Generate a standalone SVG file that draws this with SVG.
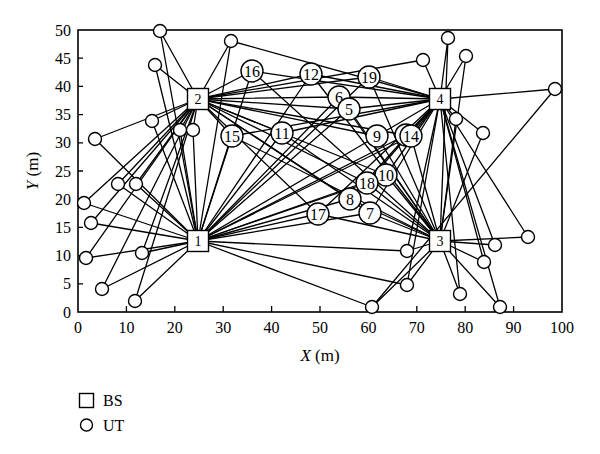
<svg xmlns="http://www.w3.org/2000/svg" width="600" height="454" viewBox="0 0 600 454" font-family="'Liberation Serif', 'Times New Roman', serif">
<style>
.ln{stroke:#000;stroke-width:1.3;fill:none}
.fr{stroke:#000;stroke-width:1.6;fill:none}
.tk{stroke:#000;stroke-width:1.3}
.bs{fill:#fff;stroke:#000;stroke-width:1.4}
.ut{fill:#fff;stroke:#000;stroke-width:1.4}
text{font-family:"Liberation Serif","Times New Roman",serif;fill:#000}
.ax{font-size:16px}
.nl{font-size:16px;text-anchor:middle}
.bl{font-size:14px;text-anchor:middle}
</style>
<rect width="600" height="454" fill="#fff"/>
<g id="connectors" class="ln">
<path d="M160,31L198,99M160,31L198,241"/>
<path d="M155,65L198,99M155,65L198,241"/>
<path d="M231,41L198,99M231,41L440,99M231,41L198,241"/>
<path d="M152,121L198,99M152,121L198,241"/>
<path d="M95,139L198,99M95,139L198,241"/>
<path d="M180,130L198,99M180,130L198,241"/>
<path d="M193,130L198,99M193,130L198,241"/>
<path d="M84,203L198,241M84,203L198,99"/>
<path d="M91,223L198,241M91,223L198,99"/>
<path d="M86,258L198,241M86,258L198,99"/>
<path d="M102,289L198,241M102,289L198,99"/>
<path d="M135,301L198,241M135,301L198,99"/>
<path d="M142,253L198,241M142,253L198,99"/>
<path d="M118,184L198,241M118,184L198,99"/>
<path d="M136,184L198,241M136,184L198,99"/>
<path d="M448,38L440,99M448,38L440,241"/>
<path d="M423,60L440,99M423,60L198,99"/>
<path d="M466,56L440,99M466,56L440,241"/>
<path d="M555,89L440,99M555,89L372,307"/>
<path d="M456,119L440,99M456,119L440,241"/>
<path d="M483,133L440,99M483,133L440,241"/>
<path d="M528,237L440,241M528,237L440,99"/>
<path d="M495,245L440,241M495,245L440,99"/>
<path d="M484,262L440,241M484,262L440,99"/>
<path d="M407,251L440,241M407,251L198,241M407,251L440,99"/>
<path d="M407,285L440,241M407,285L198,241M407,285L440,99"/>
<path d="M460,294L440,241M460,294L440,99"/>
<path d="M372,307L198,241M372,307L440,241"/>
<path d="M500,307L440,241M500,307L440,99"/>
<path d="M406,135L198,241M406,135L440,99"/>
<path d="M252,71L198,241M252,71L198,99M252,71L440,241M252,71L440,99"/>
<path d="M311,74L198,241M311,74L198,99M311,74L440,241M311,74L440,99"/>
<path d="M369,77L198,241M369,77L198,99M369,77L440,241M369,77L440,99"/>
<path d="M339,97L198,241M339,97L198,99M339,97L440,241M339,97L440,99"/>
<path d="M349,109L198,241M349,109L198,99M349,109L440,241M349,109L440,99"/>
<path d="M232,136L198,241M232,136L198,99M232,136L440,241M232,136L440,99"/>
<path d="M282,133L198,241M282,133L198,99M282,133L440,241M282,133L440,99"/>
<path d="M377,136L198,241M377,136L198,99M377,136L440,241M377,136L440,99"/>
<path d="M411,136L198,241M411,136L198,99M411,136L440,241M411,136L440,99"/>
<path d="M386,175L198,241M386,175L198,99M386,175L440,241M386,175L440,99"/>
<path d="M367,183L198,241M367,183L198,99M367,183L440,241M367,183L440,99"/>
<path d="M350,199L198,241M350,199L198,99M350,199L440,241M350,199L440,99"/>
<path d="M370,213L198,241M370,213L198,99M370,213L440,241M370,213L440,99"/>
<path d="M318,214L198,241M318,214L198,99M318,214L440,241M318,214L440,99"/>
</g>
<g id="axes">
<rect class="fr" x="78" y="30" width="484" height="282"/>
<path class="tk" d="M126.4,312V306M174.8,312V306M223.2,312V306M271.6,312V306M320,312V306M368.4,312V306M416.8,312V306M465.2,312V306M513.6,312V306"/>
<path class="tk" d="M78,283.8H83M78,255.6H83M78,227.4H83M78,199.2H83M78,171H83M78,142.8H83M78,114.6H83M78,86.4H83M78,58.2H83"/>
<g class="ax" text-anchor="middle">
<text x="78" y="333">0</text><text x="126.4" y="333">10</text><text x="174.8" y="333">20</text><text x="223.2" y="333">30</text><text x="271.6" y="333">40</text><text x="320" y="333">50</text><text x="368.4" y="333">60</text><text x="416.8" y="333">70</text><text x="465.2" y="333">80</text><text x="513.6" y="333">90</text><text x="562" y="333">100</text>
</g>
<g class="ax" text-anchor="end">
<text x="71" y="317.5">0</text><text x="71" y="289.3">5</text><text x="71" y="261.1">10</text><text x="71" y="232.9">15</text><text x="71" y="204.7">20</text><text x="71" y="176.5">25</text><text x="71" y="148.3">30</text><text x="71" y="120.1">35</text><text x="71" y="91.9">40</text><text x="71" y="63.7">45</text><text x="71" y="35.5">50</text>
</g>
<text font-size="17" x="320" y="361" text-anchor="middle"><tspan font-style="italic">X</tspan> (m)</text>
<text font-size="17" transform="translate(38,171) rotate(-90)" text-anchor="middle"><tspan font-style="italic">Y</tspan> (m)</text>
</g>
<g id="ut-unlabeled">
<circle class="ut" cx="160" cy="31" r="6.5"/>
<circle class="ut" cx="155" cy="65" r="6.5"/>
<circle class="ut" cx="231" cy="41" r="6.5"/>
<circle class="ut" cx="152" cy="121" r="6.5"/>
<circle class="ut" cx="95" cy="139" r="6.5"/>
<circle class="ut" cx="180" cy="130" r="6.5"/>
<circle class="ut" cx="193" cy="130" r="6.5"/>
<circle class="ut" cx="84" cy="203" r="6.5"/>
<circle class="ut" cx="91" cy="223" r="6.5"/>
<circle class="ut" cx="86" cy="258" r="6.5"/>
<circle class="ut" cx="102" cy="289" r="6.5"/>
<circle class="ut" cx="135" cy="301" r="6.5"/>
<circle class="ut" cx="142" cy="253" r="6.5"/>
<circle class="ut" cx="118" cy="184" r="6.5"/>
<circle class="ut" cx="136" cy="184" r="6.5"/>
<circle class="ut" cx="448" cy="38" r="6.5"/>
<circle class="ut" cx="423" cy="60" r="6.5"/>
<circle class="ut" cx="466" cy="56" r="6.5"/>
<circle class="ut" cx="555" cy="89" r="6.5"/>
<circle class="ut" cx="456" cy="119" r="6.5"/>
<circle class="ut" cx="483" cy="133" r="6.5"/>
<circle class="ut" cx="528" cy="237" r="6.5"/>
<circle class="ut" cx="495" cy="245" r="6.5"/>
<circle class="ut" cx="484" cy="262" r="6.5"/>
<circle class="ut" cx="407" cy="251" r="6.5"/>
<circle class="ut" cx="407" cy="285" r="6.5"/>
<circle class="ut" cx="460" cy="294" r="6.5"/>
<circle class="ut" cx="372" cy="307" r="6.5"/>
<circle class="ut" cx="500" cy="307" r="6.5"/>
<circle class="ut" cx="406" cy="135" r="11"/>
</g>
<g id="ut16"><circle class="ut" cx="252" cy="71" r="11"/><text class="nl" x="252" y="76.5">16</text></g>
<g id="ut12"><circle class="ut" cx="311" cy="74" r="11"/><text class="nl" x="311" y="79.5">12</text></g>
<g id="ut19"><circle class="ut" cx="369" cy="77" r="11"/><text class="nl" x="369" y="82.5">19</text></g>
<g id="ut6"><circle class="ut" cx="339" cy="97" r="11"/><text class="nl" x="339" y="102.5">6</text></g>
<g id="ut5"><circle class="ut" cx="349" cy="109" r="11"/><text class="nl" x="349" y="114.5">5</text></g>
<g id="ut15"><circle class="ut" cx="232" cy="136" r="11"/><text class="nl" x="232" y="141.5">15</text></g>
<g id="ut11"><circle class="ut" cx="282" cy="133" r="11"/><text class="nl" x="282" y="138.5">11</text></g>
<g id="ut9"><circle class="ut" cx="377" cy="136" r="11"/><text class="nl" x="377" y="141.5">9</text></g>
<g id="ut14"><circle class="ut" cx="411" cy="136" r="11"/><text class="nl" x="411" y="141.5">14</text></g>
<g id="ut10"><circle class="ut" cx="386" cy="175" r="11"/><text class="nl" x="386" y="180.5">10</text></g>
<g id="ut18"><circle class="ut" cx="367" cy="183" r="11"/><text class="nl" x="367" y="188.5">18</text></g>
<g id="ut8"><circle class="ut" cx="350" cy="199" r="11"/><text class="nl" x="350" y="204.5">8</text></g>
<g id="ut7"><circle class="ut" cx="370" cy="213" r="11"/><text class="nl" x="370" y="218.5">7</text></g>
<g id="ut17"><circle class="ut" cx="318" cy="214" r="11"/><text class="nl" x="318" y="219.5">17</text></g>
<g id="bs1"><rect class="bs" x="187.5" y="230.5" width="21" height="21"/><text class="bl" x="198" y="246">1</text></g>
<g id="bs2"><rect class="bs" x="187.5" y="88.5" width="21" height="21"/><text class="bl" x="198" y="104">2</text></g>
<g id="bs3"><rect class="bs" x="429.5" y="230.5" width="21" height="21"/><text class="bl" x="440" y="246">3</text></g>
<g id="bs4"><rect class="bs" x="429.5" y="88.5" width="21" height="21"/><text class="bl" x="440" y="104">4</text></g>
<g id="legend">
<rect class="bs" x="79.5" y="393.5" width="14" height="14"/>
<text class="ax" x="103" y="406">BS</text>
<circle class="ut" cx="86.5" cy="425" r="6"/>
<text class="ax" x="103" y="431">UT</text>
</g>
</svg>
